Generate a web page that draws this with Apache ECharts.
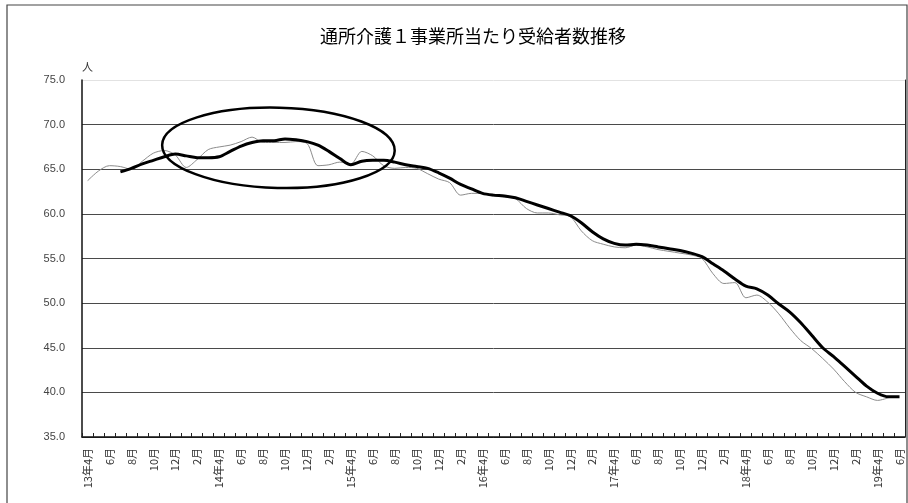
<!DOCTYPE html>
<html>
<head>
<meta charset="utf-8">
<script src="https://cdn.jsdelivr.net/npm/echarts@6/dist/echarts.min.js"></script>
<style>
  html, body { margin: 0; padding: 0; background: #fff; }
  #chart { width: 908px; height: 503px; }
</style>
</head>
<body>
<div id="chart"></div>
<script>
// 月次カテゴリ（2013年4月〜2019年6月）
const months = [
  '13年4月','5月','6月','7月','8月','9月','10月','11月','12月','1月','2月','3月',
  '14年4月','5月','6月','7月','8月','9月','10月','11月','12月','1月','2月','3月',
  '15年4月','5月','6月','7月','8月','9月','10月','11月','12月','1月','2月','3月',
  '16年4月','5月','6月','7月','8月','9月','10月','11月','12月','1月','2月','3月',
  '17年4月','5月','6月','7月','8月','9月','10月','11月','12月','1月','2月','3月',
  '18年4月','5月','6月','7月','8月','9月','10月','11月','12月','1月','2月','3月',
  '19年4月','5月','6月'
];

// 月次の1事業所当たり受給者数（細線）
const monthly = [
  63.7, 64.8, 65.4, 65.3, 65.0, 65.9, 66.8, 67.1, 66.6, 65.2, 66.1, 67.2,
  67.5, 67.7, 68.1, 68.6, 68.0, 68.0, 68.0, 68.1, 67.9, 65.4, 65.5, 65.8,
  65.6, 67.0, 66.5, 65.4, 65.1, 65.2, 65.1, 64.5, 63.9, 63.5, 62.1, 62.3,
  62.3, 62.0, 61.9, 61.7, 60.6, 60.1, 60.1, 59.9, 59.7, 58.1, 57.0, 56.6,
  56.3, 56.2, 56.5, 56.3, 56.0, 55.8, 55.6, 55.4, 55.0, 53.3, 52.2, 52.3,
  50.6, 50.9, 50.1, 48.8, 47.2, 45.8, 44.9, 43.8, 42.6, 41.2, 40.0, 39.5,
  39.1, 39.4, null
];

// 推移の平均（太線）
const trend = [
  null, null, null, 64.7, 65.1, 65.6, 66.0, 66.4, 66.7, 66.5, 66.3, 66.3,
  66.4, 67.0, 67.6, 68.0, 68.2, 68.2, 68.4, 68.3, 68.1, 67.7, 67.0, 66.2,
  65.5, 65.9, 66.0, 66.0, 65.8, 65.5, 65.3, 65.1, 64.6, 64.0, 63.3, 62.8,
  62.3, 62.1, 62.0, 61.8, 61.4, 61.0, 60.6, 60.2, 59.8, 59.0, 58.0, 57.2,
  56.7, 56.5, 56.6, 56.5, 56.3, 56.1, 55.9, 55.6, 55.2, 54.4, 53.6, 52.7,
  51.9, 51.6, 50.9, 49.9, 49.0, 47.8, 46.4, 45.0, 44.0, 42.9, 41.8, 40.7,
  39.9, 39.5, 39.5
];

// 縦軸目盛
const yMin = 35, yMax = 75, yStep = 5;

// 注目範囲を囲む楕円（データ座標：中心の月番号・値、半径は月数・人数）
const focusCenterIdx = 17.4, focusCenterVal = 67.4;
const focusHalfMonths = 10.6, focusHalfVal = 4.5;

const chart = echarts.init(document.getElementById('chart'), null, { renderer: 'canvas' });

const gridLineColors = ['#333', '#4a4a4a', '#4a4a4a', '#4a4a4a', '#4a4a4a', '#4a4a4a', '#4a4a4a', '#4a4a4a', '#e2e2e2'];

chart.setOption({
  backgroundColor: '#fff',
  animation: false,
  title: {
    text: '通所介護１事業所当たり受給者数推移',
    left: 315,
    top: 22,
    textStyle: {
      fontFamily: 'Noto Sans CJK JP',
      fontSize: 18,
      fontWeight: 'normal',
      color: '#000'
    }
  },
  grid: { left: 82, right: 3, top: 80, bottom: 66 },
  xAxis: {
    type: 'category',
    data: months,
    boundaryGap: true,
    axisLine: { lineStyle: { color: '#111', width: 1.5 } },
    axisTick: { show: true, inside: true, length: 4, interval: 0, lineStyle: { color: '#222' } },
    axisLabel: {
      interval: 1,
      rotate: 90,
      margin: 11,
      fontSize: 11,
      color: '#333',
      fontFamily: 'Noto Sans CJK JP'
    },
    splitLine: { show: false }
  },
  yAxis: [
    {
      type: 'value',
      min: yMin,
      max: yMax,
      interval: yStep,
      name: '人',
      nameLocation: 'end',
      nameGap: 8,
      nameTextStyle: { fontSize: 11, color: '#333', align: 'left', fontFamily: 'Noto Sans CJK JP' },
      axisLine: { show: true, lineStyle: { color: '#111', width: 1.5 } },
      axisTick: { show: false },
      axisLabel: {
        margin: 17,
        fontSize: 11,
        color: '#444',
        fontFamily: 'Liberation Sans',
        formatter: v => v.toFixed(1)
      },
      splitLine: { show: true, lineStyle: { color: gridLineColors, width: 1 } }
    },
    {
      type: 'value',
      min: yMin,
      max: yMax,
      interval: yStep,
      position: 'right',
      axisLine: { show: true, lineStyle: { color: '#222', width: 1 } },
      axisTick: { show: false },
      axisLabel: { show: false },
      splitLine: { show: false }
    }
  ],
  series: [
    {
      name: '月次',
      type: 'line',
      data: monthly,
      smooth: 0.3,
      symbol: 'none',
      lineStyle: { color: '#8c8c8c', width: 1 },
      z: 2
    },
    {
      name: '推移',
      type: 'line',
      data: trend,
      smooth: 0.3,
      symbol: 'none',
      lineStyle: { color: '#000', width: 3 },
      z: 3
    }
  ]
});

// 楕円の位置をデータ座標から算出して描画
function drawFocus() {
  const p0 = chart.convertToPixel({ xAxisIndex: 0 }, 0);
  const p1 = chart.convertToPixel({ xAxisIndex: 0 }, 1);
  const step = p1 - p0;
  const cx = p0 + step * focusCenterIdx;
  const cy = chart.convertToPixel({ yAxisIndex: 0 }, focusCenterVal);
  const rx = step * focusHalfMonths;
  const ry = Math.abs(chart.convertToPixel({ yAxisIndex: 0 }, focusCenterVal + focusHalfVal) - cy);
  const W = chart.getWidth(), H = chart.getHeight();
  chart.setOption({
    graphic: [
      {
        type: 'ellipse',
        shape: { cx: cx, cy: cy, rx: rx, ry: ry },
        rotation: -0.025,
        originX: cx,
        originY: cy,
        style: { fill: 'none', stroke: '#000', lineWidth: 2.5 },
        z: 10
      },
      {
        type: 'rect',
        shape: { x: 7, y: 5, width: W - 8, height: H + 10 },
        style: { fill: 'none', stroke: '#444', lineWidth: 1.2 },
        silent: true,
        z: 0
      }
    ]
  });
}
drawFocus();
</script>
</body>
</html>
